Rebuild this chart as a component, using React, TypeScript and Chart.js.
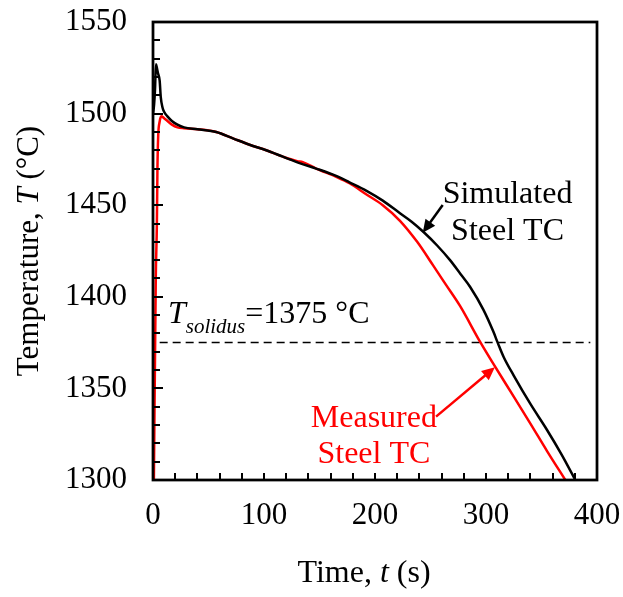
import React, { useEffect, useRef } from "react";
import { Chart, registerables } from "chart.js";

Chart.register(...registerables);

// ---- Data ----
const simTime = [0, 1, 1.8, 2.7, 3.5, 4.5, 6, 7, 8.5, 10, 13, 17, 22, 28, 40, 57, 72, 87, 102, 117, 132, 147, 165, 177, 192, 207, 222.5, 233, 243.5, 256, 267.6, 277, 285.6, 297.6, 306.6, 310.5, 316, 325, 340, 355, 368, 380.5];
const simTemp = [1500, 1505, 1513, 1527, 1525, 1522, 1518, 1509, 1503.5, 1501, 1498.5, 1496, 1494, 1492.5, 1491.5, 1490, 1486.5, 1483, 1480, 1476.5, 1473, 1470, 1466, 1462.5, 1458, 1452.5, 1445.6, 1441, 1435.5, 1428, 1420, 1412.5, 1405.5, 1393, 1381, 1375, 1367, 1357, 1341.5, 1327.3, 1314, 1300];

const measTime = [0.8, 2.5, 3.5, 4, 4.7, 5.8, 7.5, 10, 13, 17, 22, 28, 40, 57, 72, 87, 102, 117, 130, 135, 147, 165, 177, 192, 207, 222.5, 238, 252.5, 264, 276.6, 294.6, 305, 325, 340, 355, 371.5];
const measTemp = [1300, 1410, 1440, 1470, 1488, 1495, 1498.5, 1497.5, 1496, 1494, 1492.5, 1492, 1491.5, 1490, 1486.5, 1483, 1480, 1476.5, 1474, 1473.5, 1470, 1465.5, 1462, 1456, 1450, 1441.5, 1430, 1417, 1406.5, 1395, 1375.5, 1365, 1345.5, 1330.8, 1315.8, 1300];

const solidusTemp = 1375;
const solidusSpan = [6, 394];

const xTickLabels = [0, 100, 200, 300, 400];
const yTickLabels = [1300, 1350, 1400, 1450, 1500, 1550];
const xMinorTicks = [20, 40, 60, 80, 100, 120, 140, 160, 180, 200, 220, 240, 260, 280, 300, 320, 340, 360, 380];
const yMinorTicks = [1310, 1320, 1330, 1340, 1350, 1360, 1370, 1380, 1390, 1400, 1410, 1420, 1430, 1440, 1450, 1460, 1470, 1480, 1490, 1500, 1510, 1520, 1530, 1540];

const SERIF = '"Liberation Serif", "Times New Roman", "DejaVu Serif", serif';

type Seg = { text: string; font: string; dy?: number };

function drawRich(ctx: CanvasRenderingContext2D, segs: Seg[], x: number, y: number, align: "left" | "center") {
  const widths = segs.map((s) => {
    ctx.font = s.font;
    return ctx.measureText(s.text).width;
  });
  const total = widths.reduce((a, b) => a + b, 0);
  let cx = align === "center" ? x - total / 2 : x;
  ctx.textAlign = "left";
  ctx.textBaseline = "alphabetic";
  segs.forEach((s, i) => {
    ctx.font = s.font;
    ctx.fillText(s.text, cx, y + (s.dy || 0));
    cx += widths[i];
  });
}

function drawArrow(ctx: CanvasRenderingContext2D, x0: number, y0: number, x1: number, y1: number, color: string) {
  const ang = Math.atan2(y1 - y0, x1 - x0);
  const head = 13;
  const half = 6;
  ctx.save();
  ctx.strokeStyle = color;
  ctx.fillStyle = color;
  ctx.lineWidth = 2.5;
  ctx.beginPath();
  ctx.moveTo(x0, y0);
  ctx.lineTo(x1 - Math.cos(ang) * head * 0.8, y1 - Math.sin(ang) * head * 0.8);
  ctx.stroke();
  ctx.beginPath();
  ctx.moveTo(x1, y1);
  const bx = x1 - Math.cos(ang) * head;
  const by = y1 - Math.sin(ang) * head;
  ctx.lineTo(bx + Math.sin(ang) * half, by - Math.cos(ang) * half);
  ctx.lineTo(bx - Math.sin(ang) * half, by + Math.cos(ang) * half);
  ctx.closePath();
  ctx.fill();
  ctx.restore();
}

const framePlugin = {
  id: "frame",
  afterDatasetsDraw(chart: any) {
    const { ctx, chartArea, scales } = chart;
    const xs = scales.x;
    const ys = scales.y;
    ctx.save();
    ctx.strokeStyle = "#000";
    ctx.lineWidth = 2;
    ctx.beginPath();
    xMinorTicks.forEach((v) => {
      const px = Math.round(xs.getPixelForValue(v));
      ctx.moveTo(px, chartArea.bottom);
      ctx.lineTo(px, chartArea.bottom - 7);
    });
    yMinorTicks.forEach((v) => {
      const py = Math.round(ys.getPixelForValue(v));
      const len = v % 50 === 0 ? 10 : 7;
      ctx.moveTo(chartArea.left, py);
      ctx.lineTo(chartArea.left + len, py);
    });
    ctx.stroke();
    ctx.lineWidth = 2.75;
    ctx.strokeRect(chartArea.left, chartArea.top, chartArea.right - chartArea.left, chartArea.bottom - chartArea.top);
    ctx.restore();
  },
  afterDraw(chart: any) {
    const { ctx, scales } = chart;
    const xs = scales.x;
    const ys = scales.y;
    const X = (v: number) => xs.getPixelForValue(v);
    const Y = (v: number) => ys.getPixelForValue(v);
    ctx.save();
    ctx.fillStyle = "#000";
    drawRich(
      ctx,
      [
        { text: "Time, ", font: `32px ${SERIF}` },
        { text: "t", font: `italic 32px ${SERIF}` },
        { text: " (s)", font: `32px ${SERIF}` },
      ],
      364,
      582,
      "center"
    );
    ctx.save();
    ctx.translate(38, 251);
    ctx.rotate(-Math.PI / 2);
    drawRich(
      ctx,
      [
        { text: "Temperature, ", font: `31px ${SERIF}` },
        { text: "T", font: `italic 31px ${SERIF}` },
        { text: " (°C)", font: `31px ${SERIF}` },
      ],
      0,
      0,
      "center"
    );
    ctx.restore();
    drawRich(
      ctx,
      [
        { text: "T", font: `italic 32px ${SERIF}` },
        { text: "solidus", font: `italic 21px ${SERIF}`, dy: 10 },
        { text: "=1375 °C", font: `32px ${SERIF}` },
      ],
      X(13.5),
      Y(1385.7),
      "left"
    );
    drawRich(ctx, [{ text: "Simulated", font: `32px ${SERIF}` }], X(319.4), Y(1451.2), "center");
    drawRich(ctx, [{ text: "Steel TC", font: `32px ${SERIF}` }], X(319.4), Y(1431), "center");
    drawArrow(ctx, X(261), Y(1450.1), X(243), Y(1435), "#000");
    ctx.fillStyle = "#ff0000";
    drawRich(ctx, [{ text: "Measured", font: `32px ${SERIF}` }], X(199), Y(1329.1), "center");
    drawRich(ctx, [{ text: "Steel TC", font: `32px ${SERIF}` }], X(199), Y(1309.1), "center");
    drawArrow(ctx, X(255), Y(1334.6), X(308), Y(1361.5), "#ff0000");
    ctx.restore();
  },
};

const zeroPad = (s: any) => {
  s.paddingTop = 0;
  s.paddingBottom = 0;
  s.paddingLeft = 0;
  s.paddingRight = 0;
};

export default function App() {
  const ref = useRef<HTMLCanvasElement | null>(null);
  useEffect(() => {
    if (!ref.current) return;
    const chart = new Chart(ref.current, {
      type: "line",
      data: {
        datasets: [
          {
            label: "Simulated Steel TC",
            data: simTime.map((x, i) => ({ x, y: simTemp[i] })),
            borderColor: "#000000",
            borderWidth: 2.5,
            pointRadius: 0,
            cubicInterpolationMode: "monotone",
          },
          {
            label: "Measured Steel TC",
            data: measTime.map((x, i) => ({ x, y: measTemp[i] })),
            borderColor: "#ff0000",
            borderWidth: 2.5,
            pointRadius: 0,
            cubicInterpolationMode: "monotone",
          },
          {
            label: "Tsolidus",
            data: solidusSpan.map((x) => ({ x, y: solidusTemp })),
            borderColor: "#000000",
            borderWidth: 1.5,
            borderDash: [8, 5],
            pointRadius: 0,
          },
        ],
      },
      options: {
        responsive: false,
        animation: false,
        devicePixelRatio: 1,
        layout: { padding: { top: 22, right: 26, left: 0, bottom: 0 } },
        plugins: { legend: { display: false }, tooltip: { enabled: false } },
        scales: {
          x: {
            type: "linear",
            min: 0,
            max: 400,
            afterFit: (s: any) => {
              s.height = 117;
              zeroPad(s);
            },
            afterBuildTicks: (s: any) => {
              s.ticks = xTickLabels.map((v) => ({ value: v }));
            },
            grid: { display: false, drawTicks: false },
            border: { display: false },
            ticks: {
              color: "#000",
              padding: 17,
              maxRotation: 0,
              autoSkip: false,
              font: { family: SERIF, size: 31 },
              callback: (v: any) => String(v),
            },
          },
          y: {
            type: "linear",
            min: 1300,
            max: 1550,
            afterFit: (s: any) => {
              s.width = 153;
              zeroPad(s);
            },
            afterBuildTicks: (s: any) => {
              s.ticks = yTickLabels.map((v) => ({ value: v }));
            },
            grid: { display: false, drawTicks: false },
            border: { display: false },
            ticks: {
              color: "#000",
              padding: 26,
              autoSkip: false,
              font: { family: SERIF, size: 31 },
              callback: (v: any) => String(v),
            },
          },
        },
      } as any,
      plugins: [framePlugin],
    });
    return () => chart.destroy();
  }, []);
  return (
    <div style={{ position: "absolute", left: 0, top: 0, width: 623, height: 597, background: "#fff" }}>
      <canvas ref={ref} width={623} height={597} style={{ width: 623, height: 597 }} />
    </div>
  );
}
